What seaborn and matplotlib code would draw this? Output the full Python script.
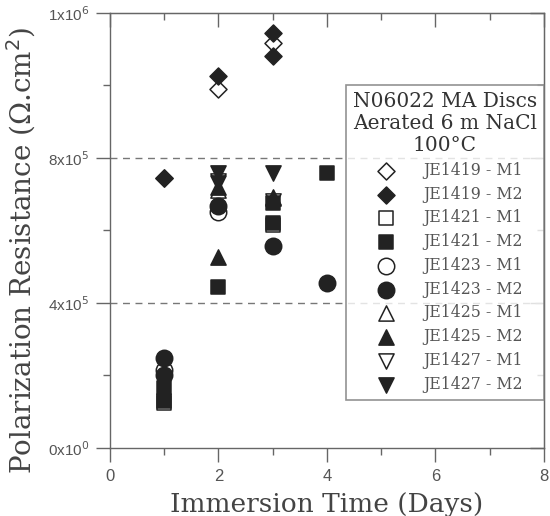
import numpy as np
import pandas as pd
import seaborn as sns
import matplotlib.pyplot as plt
from matplotlib.ticker import MultipleLocator

# valores (dias, resistencia de polarizacao em ohm.cm2)
series = ['JE1419 - M1', 'JE1419 - M2', 'JE1421 - M1', 'JE1421 - M2', 'JE1423 - M1',
          'JE1423 - M2', 'JE1425 - M1', 'JE1425 - M2', 'JE1427 - M1', 'JE1427 - M2']

je1419_m1_dia = [1, 2, 3]
je1419_m1_rp = [745e3, 990e3, 1117e3]
je1419_m2_dia = [1, 2, 3, 3]
je1419_m2_rp = [745e3, 1025e3, 1145e3, 1080e3]
je1421_m1_dia = [1, 3]
je1421_m1_rp = [125e3, 615e3]
je1421_m2_dia = [1, 1, 2, 3, 3, 4]
je1421_m2_rp = [165e3, 130e3, 444e3, 675e3, 620e3, 759e3]
je1423_m1_dia = [1, 2]
je1423_m1_rp = [215e3, 651e3]
je1423_m2_dia = [1, 1, 2, 3, 4]
je1423_m2_rp = [248e3, 200e3, 668e3, 556e3, 455e3]
je1425_m1_dia = [2, 3]
je1425_m1_rp = [712e3, 690e3]
je1425_m2_dia = [2, 2, 3]
je1425_m2_rp = [527e3, 720e3, 692e3]
je1427_m1_dia = [2, 3]
je1427_m1_rp = [735e3, 680e3]
je1427_m2_dia = [2, 2, 3]
je1427_m2_rp = [759e3, 730e3, 759e3]

dias = [je1419_m1_dia, je1419_m2_dia, je1421_m1_dia, je1421_m2_dia, je1423_m1_dia,
        je1423_m2_dia, je1425_m1_dia, je1425_m2_dia, je1427_m1_dia, je1427_m2_dia]
rps = [je1419_m1_rp, je1419_m2_rp, je1421_m1_rp, je1421_m2_rp, je1423_m1_rp,
       je1423_m2_rp, je1425_m1_rp, je1425_m2_rp, je1427_m1_rp, je1427_m2_rp]
marcadores = ['D', 'D', 's', 's', 'o', 'o', '^', '^', 'v', 'v']
cheio = [False, True, False, True, False, True, False, True, False, True]
tamanho = {'D': 75, 's': 115, 'o': 140, '^': 120, 'v': 120}

yticks = [0, 4e5, 8e5, 1.2e6]
ytick_labels = [r'0x10$^0$', r'4x10$^5$', r'8x10$^5$', r'1x10$^6$']
xticks = [0, 2, 4, 6, 8]

sns.set_style('white')
plt.rcParams['font.family'] = ['DejaVu Serif']

fig = plt.figure(figsize=(5.5, 5.16), dpi=100)
ax = fig.add_axes([0.2, 0.132, 0.789, 0.843])

escuro = '#222222'
for nome, d, r, m, f in zip(series, dias, rps, marcadores, cheio):
    df = pd.DataFrame({'dia': d, 'rp': r})
    sns.scatterplot(data=df, x='dia', y='rp', ax=ax, marker=m, s=tamanho[m],
                    facecolor=escuro if f else 'white', edgecolor=escuro,
                    linewidth=1.1, label=nome, zorder=3 if f else 2)

for v in [4e5, 8e5]:
    ax.axhline(v, color='#777777', ls=(0, (5, 4)), lw=1, zorder=1)

ax.set_xlim(0, 8)
ax.set_ylim(0, 1.2e6)
ax.set_xticks(xticks)
ax.set_xticklabels([str(x) for x in xticks], family='Liberation Sans', fontsize=12, color='#555555')
ax.set_yticks(yticks)
ax.set_yticklabels(ytick_labels, family='Liberation Sans', fontsize=11, color='#555555')
ax.xaxis.set_minor_locator(MultipleLocator(1))
ax.yaxis.set_minor_locator(MultipleLocator(2e5))
ax.tick_params(which='both', direction='out', color='#666666', width=1,
               bottom=True, left=True, top=False, right=False)
ax.tick_params(which='major', length=10, pad=5)
ax.tick_params(which='minor', length=5)
# ticks de cima e da direita para dentro
sec_x = ax.secondary_xaxis('top')
sec_x.set_xticks(xticks)
sec_x.set_xticklabels([])
sec_x.xaxis.set_minor_locator(MultipleLocator(1))
sec_x.tick_params(which='both', direction='in', color='#666666', width=1)
sec_x.tick_params(which='major', length=10)
sec_x.tick_params(which='minor', length=5)
sec_x.spines['top'].set_color('#666666')
sec_y = ax.secondary_yaxis('right')
sec_y.set_yticks(yticks)
sec_y.set_yticklabels([])
sec_y.yaxis.set_minor_locator(MultipleLocator(2e5))
sec_y.tick_params(which='both', direction='in', color='#666666', width=1)
sec_y.tick_params(which='major', length=10)
sec_y.tick_params(which='minor', length=5)
sec_y.spines['right'].set_color('#666666')
for s in ax.spines.values():
    s.set_color('#666666')
    s.set_linewidth(1)

ax.set_xlabel('Immersion Time (Days)', fontsize=19, color='#444444', labelpad=6)
ax.set_ylabel('Polarization Resistance (\u03a9.cm$^2$)', fontsize=20, color='#444444',
              va='center')
ax.yaxis.set_label_coords(-0.205, 0.455)

leg = ax.legend(title='N06022 MA Discs\nAerated 6 m NaCl\n100\u00b0C', loc='upper right',
                bbox_to_anchor=(1.0, 0.834), frameon=True, fancybox=False,
                prop={'family': 'DejaVu Serif', 'size': 11.3}, title_fontsize=14.5,
                labelspacing=0.43, handlelength=2.4, handletextpad=1.2,
                borderpad=0.45, borderaxespad=0)
leg.get_frame().set_edgecolor('#777777')
leg.get_frame().set_linewidth(1.2)
leg.get_title().set_multialignment('center')
leg.get_title().set_linespacing(1.2)
for t in leg.get_texts():
    t.set_color('#555555')
leg.get_title().set_color('#333333')

fig.savefig('out.png', dpi=100)
